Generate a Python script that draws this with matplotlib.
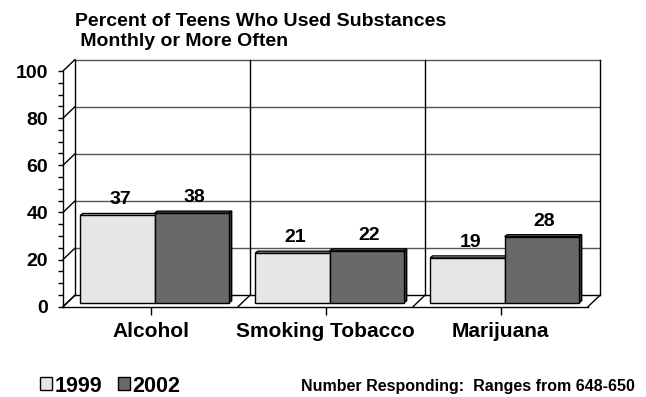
import matplotlib
matplotlib.use("Agg")
import matplotlib.pyplot as plt
from matplotlib.patches import Polygon, Patch
from matplotlib.transforms import offset_copy

plt.rcParams['font.family'] = ['Liberation Sans', 'DejaVu Sans']
plt.rcParams['font.weight'] = 'bold'

categories = ['Alcohol', 'Smoking Tobacco', 'Marijuana']
years = ['1999', '2002']
pct_1999 = [37, 21, 19]
pct_2002 = [38, 22, 28]
y_ticks = [0, 20, 40, 60, 80, 100]

face_colors = ['#e6e6e6', '#696969']
top_colors = ['#f2f2f2', '#7a7a7a']
side_colors = ['#bdbdbd', '#3c3c3c']

W, H = 646, 397
fig = plt.figure(figsize=(W / 100, H / 100), dpi=100)
# front plane of the plot area, in pixels
x0, x1 = 63, 588
y_zero, y_top = 306.7, 71
ax = fig.add_axes([x0 / W, (H - y_zero) / H, (x1 - x0) / W, (y_zero - y_top) / H])
ax.set_xlim(0, 3)
ax.set_ylim(0, 100)
ax.set_facecolor('none')

px_x = (x1 - x0) / 3.0
px_y = (y_zero - y_top) / 100.0

# back wall and bar plane are shifted copies of the front plane
wall = offset_copy(ax.transData, fig=fig, x=12, y=11.5, units='dots')
mid = offset_copy(ax.transData, fig=fig, x=4.2, y=4, units='dots')

grid_kw = dict(clip_on=False, zorder=1)
for v in y_ticks:
    col = '#000000' if v in (0,) else '#555555'
    ax.plot([0, 3], [v, v], color=col, lw=1, transform=wall, **grid_kw)
for k in range(4):
    ax.plot([k, k], [0, 100], color='black', lw=1, transform=wall, **grid_kw)
# left wall and floor connectors between the front plane and the back wall
for v in y_ticks:
    ax.annotate('', xy=(0, v), xycoords=wall, xytext=(0, v), textcoords=ax.transData,
                arrowprops=dict(arrowstyle='-', lw=1, color='black', shrinkA=0, shrinkB=0))
for k in range(4):
    ax.annotate('', xy=(k, 0), xycoords=wall, xytext=(k, 0), textcoords=ax.transData,
                arrowprops=dict(arrowstyle='-', lw=1, color='black', shrinkA=0, shrinkB=0))

# bars with a thin 3D top and side
bar_w = 74.5 / px_x
dx = 2.5 / px_x
dy = 2.0 / px_y
for i, vals in enumerate([pct_1999, pct_2002]):
    for c, v in enumerate(vals):
        left = c + 0.5 - bar_w + i * bar_w
        right = left + bar_w
        top = Polygon([(left, v), (right, v), (right + dx, v + dy), (left + dx, v + dy)],
                      closed=True, facecolor=top_colors[i], edgecolor='black', lw=1,
                      transform=mid, clip_on=False, zorder=3)
        side = Polygon([(right, 0), (right + dx, dy), (right + dx, v + dy), (right, v)],
                       closed=True, facecolor=side_colors[i], edgecolor='black', lw=1,
                       transform=mid, clip_on=False, zorder=3)
        ax.add_patch(side)
        ax.add_patch(top)
        front = ax.bar(left, v, width=bar_w, align='edge', color=face_colors[i],
                       edgecolor='black', lw=1, zorder=4, clip_on=False)
        front[0].set_transform(mid)
        ax.annotate(str(v), xy=(left + bar_w / 2 + dx / 2, v), xycoords=mid,
                    xytext=(1, 8), textcoords='offset points', ha='center', va='baseline',
                    fontsize=14, fontweight='bold', zorder=5)

for s in ('top', 'right'):
    ax.spines[s].set_visible(False)
ax.spines['left'].set_linewidth(1)
ax.spines['bottom'].set_linewidth(1)
ax.spines['left'].set_zorder(2)
ax.spines['bottom'].set_zorder(2)

ax.set_yticks(y_ticks)
ax.set_yticks(range(0, 101, 5), minor=True)
ax.tick_params(axis='y', which='both', direction='out', length=3.6, width=1, pad=7)
ax.tick_params(axis='y', labelsize=14)
ax.set_xticks([0.5, 1.5, 2.5])
ax.set_xticklabels(categories)
ax.tick_params(axis='x', direction='out', length=5.8, width=1, pad=5, labelsize=15)
for lab in ax.get_xticklabels() + ax.get_yticklabels():
    lab.set_fontweight('bold')

fig.text(75 / W, 1 - 25.5 / H, 'Percent of Teens Who Used Substances',
         fontsize=14, fontweight='bold', ha='left', va='baseline')
fig.text(75 / W, 1 - 46.5 / H, ' Monthly or More Often',
         fontsize=14, fontweight='bold', ha='left', va='baseline')

handles = [Patch(facecolor=face_colors[i], edgecolor='black', lw=1) for i in range(2)]
fig.legend(handles, years, loc='center left', bbox_to_anchor=(40 / W, 1 - 386 / H),
           ncol=2, frameon=False, handlelength=0.55, handleheight=0.55,
           handletextpad=0.12, columnspacing=0.75, borderpad=0, borderaxespad=0,
           prop={'weight': 'bold', 'size': 15.5})
fig.text(301 / W, 1 - 391 / H, 'Number Responding:  Ranges from 648-650',
         fontsize=11.5, fontweight='bold', ha='left', va='baseline')

fig.savefig('out.png', dpi=100)
